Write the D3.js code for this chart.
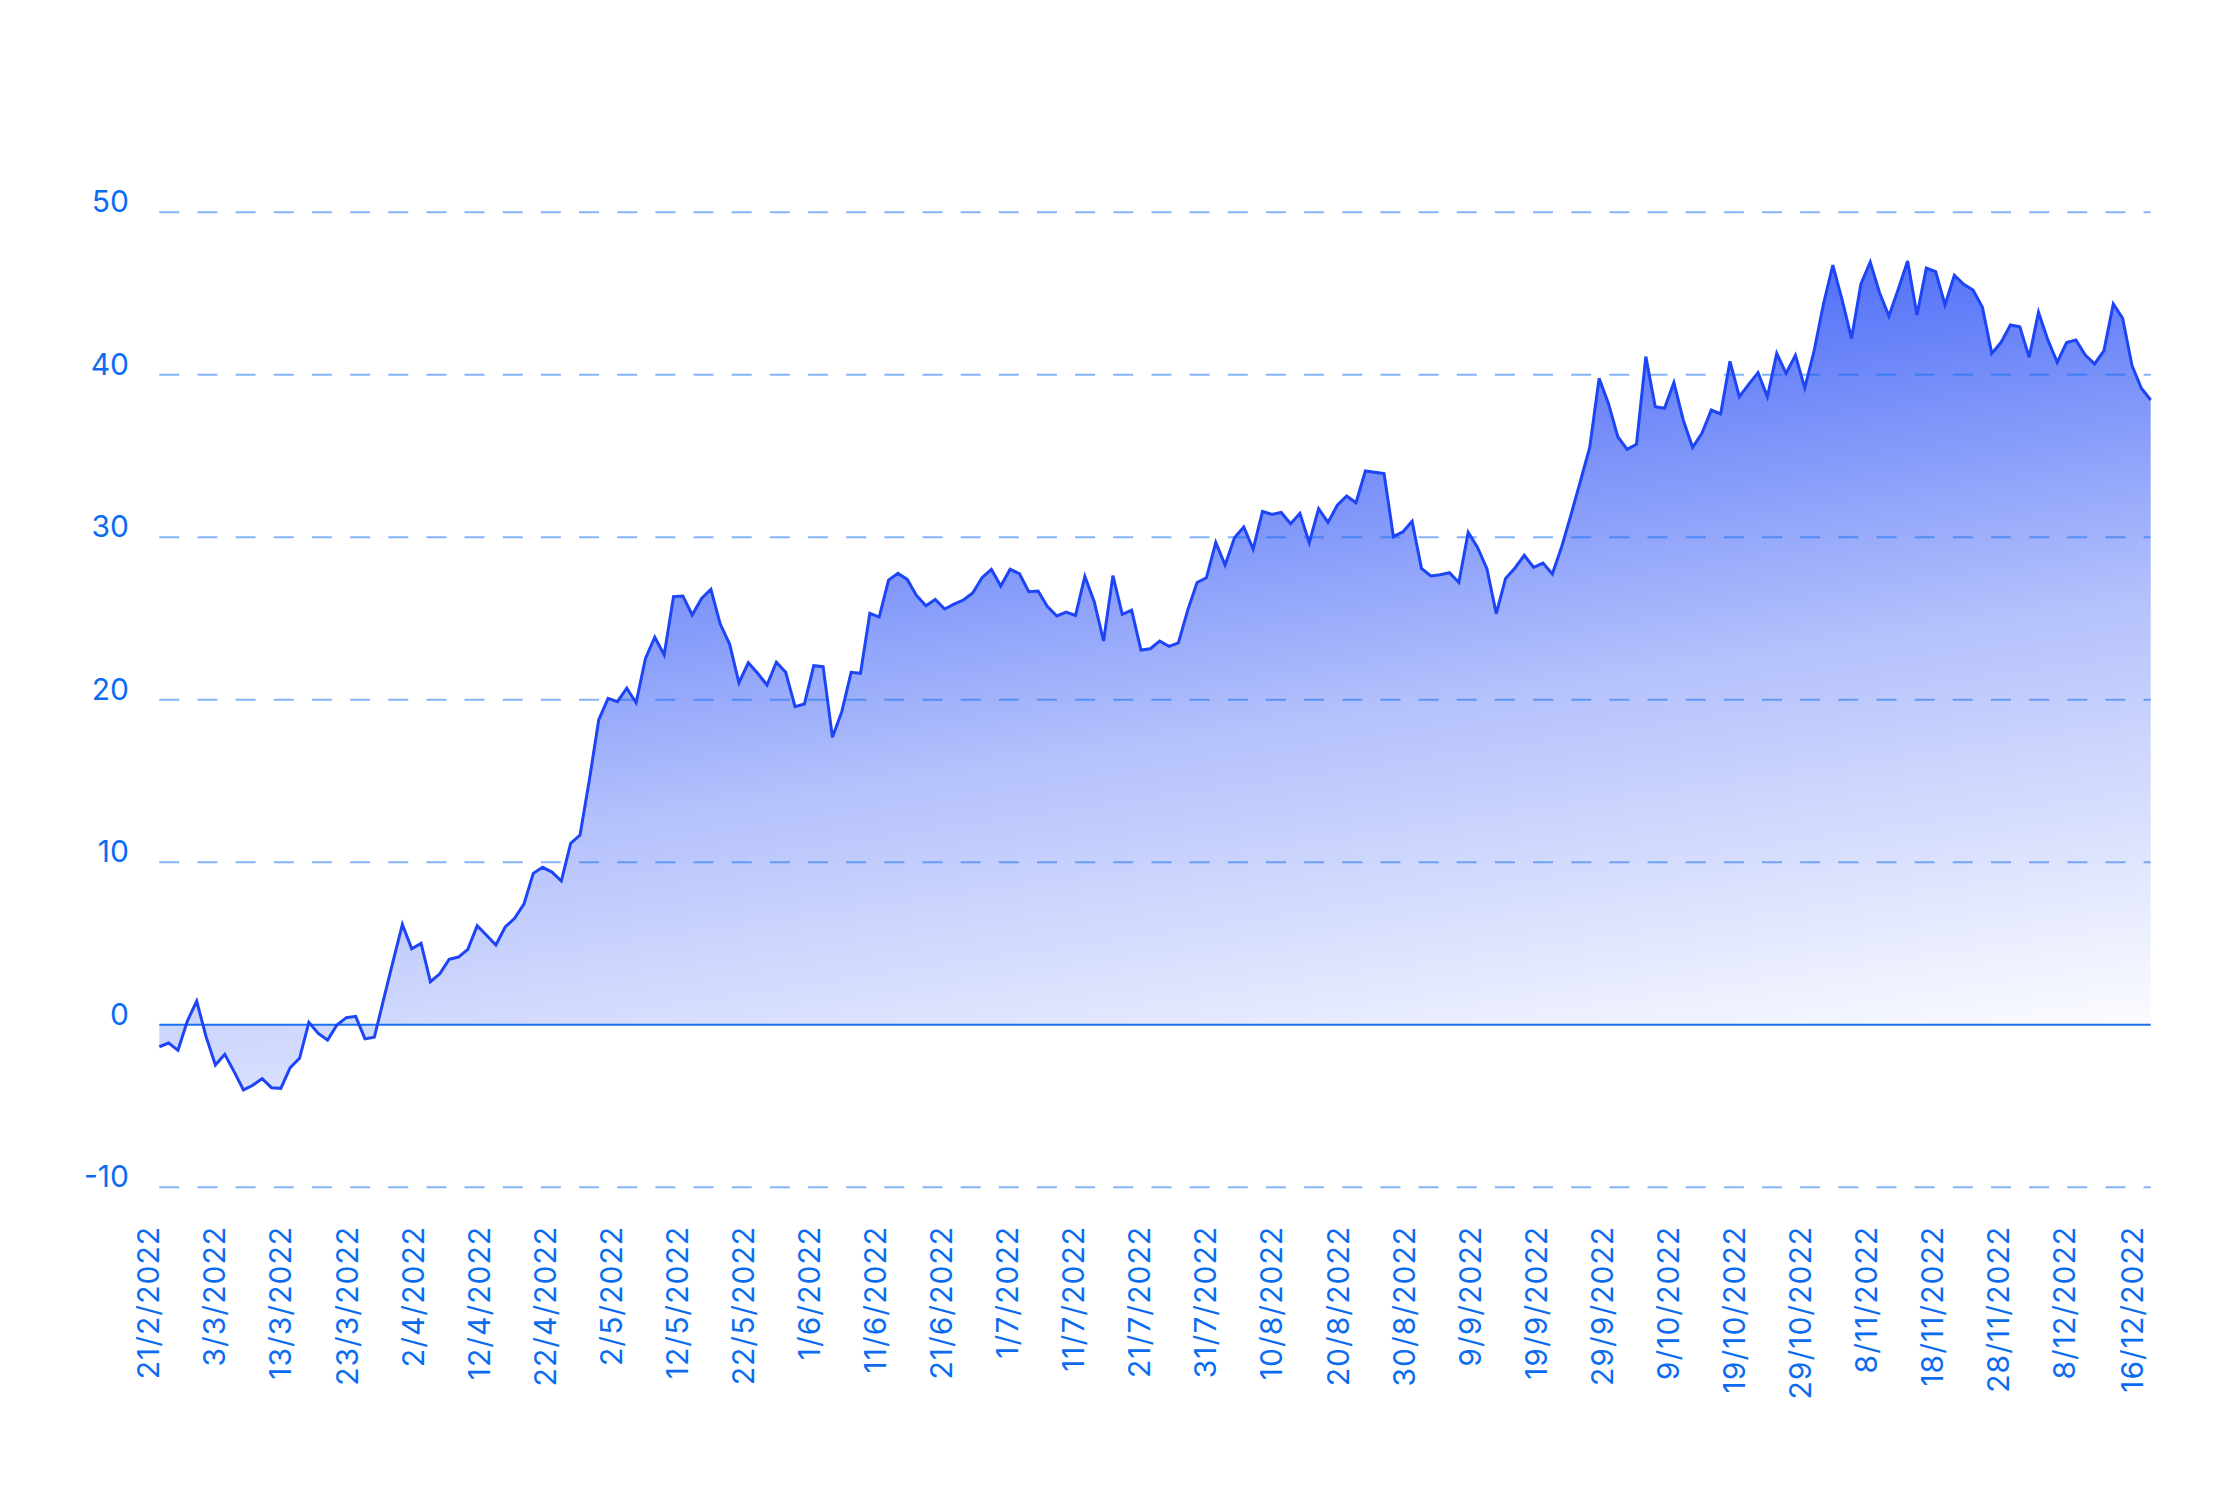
<!DOCTYPE html>
<html><head><meta charset="utf-8">
<script src="https://cdn.jsdelivr.net/npm/d3@7"></script>
<style>html,body{margin:0;padding:0;background:#fff}svg{display:block}</style>
</head><body>
<svg id="chart" width="2237" height="1512"></svg>
<script>
// ---- data ----
const values = [
  -1.35,-1.12,-1.57,0.23,1.46,-0.73,-2.47,-1.82,-2.88,-4.01,
  -3.72,-3.31,-3.87,-3.91,-2.64,-2.06,0.15,-0.53,-0.94,-0.01,
  0.44,0.52,-0.87,-0.77,1.58,3.9,6.18,4.68,5.01,2.65,
  3.14,4.03,4.17,4.64,6.10,5.51,4.91,6.02,6.55,7.43,
  9.32,9.69,9.40,8.85,11.17,11.68,15.06,18.76,20.09,19.89,
  20.71,19.82,22.55,23.85,22.76,26.35,26.39,25.22,26.24,26.80,
  24.66,23.43,21.05,22.28,21.63,20.91,22.31,21.69,19.58,19.74,
  22.10,22.04,17.69,19.27,21.69,21.63,25.32,25.09,27.37,27.78,
  27.41,26.41,25.79,26.18,25.59,25.89,26.14,26.57,27.52,28.03,
  27.00,28.03,27.76,26.65,26.69,25.73,25.16,25.40,25.19,27.59,
  26.04,23.62,27.64,25.26,25.52,23.06,23.14,23.62,23.29,23.50,
  25.52,27.22,27.51,29.69,28.29,29.97,30.63,29.28,31.59,31.41,
  31.53,30.84,31.47,29.67,31.76,30.92,31.97,32.54,32.13,34.08,
  34.00,33.92,30.04,30.33,30.98,28.09,27.62,27.70,27.82,27.22,
  30.31,29.38,28.07,25.30,27.47,28.11,28.89,28.15,28.41,27.74,
  29.42,31.4,33.45,35.53,39.78,38.24,36.19,35.41,35.72,41.12,
  38.04,37.94,39.52,37.22,35.54,36.40,37.83,37.59,40.83,38.65,
  39.41,40.13,38.65,41.32,40.09,41.20,39.20,41.48,44.36,46.75,
  44.60,42.24,45.58,46.94,45.05,43.62,45.26,47.00,43.68,46.57,
  46.35,44.30,46.12,45.57,45.22,44.15,41.32,42.00,43.07,42.96,
  41.08,43.85,42.15,40.77,41.98,42.14,41.22,40.67,41.49,44.36,
  43.48,40.57,39.17,38.45
];
const yTicks = [-10, 0, 10, 20, 30, 40, 50];
const xTickLabels = [
  "21/2/2022","3/3/2022","13/3/2022","23/3/2022","2/4/2022","12/4/2022",
  "22/4/2022","2/5/2022","12/5/2022","22/5/2022","1/6/2022","11/6/2022",
  "21/6/2022","1/7/2022","11/7/2022","21/7/2022","31/7/2022","10/8/2022",
  "20/8/2022","30/8/2022","9/9/2022","19/9/2022","29/9/2022","9/10/2022",
  "19/10/2022","29/10/2022","8/11/2022","18/11/2022","28/11/2022","8/12/2022",
  "16/12/2022"
];

// ---- layout ----
const W = 2237, H = 1512;
const plot = {left: 159.3, right: 2150.7, top: 212.3, bottom: 1187.3};
const textColor = "#0b6cf0";
const lineColor = "#1d45f5";
const fontFamily = "Inter, 'Noto Sans', sans-serif";

const svg = d3.select("#chart");
svg.append("rect").attr("width", W).attr("height", H).attr("fill", "#fff");

const y = d3.scaleLinear().domain([-10, 50]).range([plot.bottom, plot.top]);
const xi = d3.scaleLinear().domain([0, values.length - 1]).range([plot.left, plot.right]);

const parse = d3.timeParse("%d/%m/%Y");
const tickDates = xTickLabels.map(parse);
const nT = tickDates.length;
const xt = d3.scaleTime()
  .domain([tickDates[0], tickDates[nT - 2], tickDates[nT - 1]])
  .range([plot.left, 2075.3, 2142.5]);

// gradient
const defs = svg.append("defs");
const grad = defs.append("linearGradient")
  .attr("id", "areaGrad")
  .attr("gradientUnits", "userSpaceOnUse")
  .attr("x1", 1150).attr("y1", 200)
  .attr("x2", 1291).attr("y2", 1170);
grad.append("stop").attr("offset", 0).attr("stop-color", "#1d45f5").attr("stop-opacity", 0.95);
grad.append("stop").attr("offset", 0.55).attr("stop-color", "#1d45f5").attr("stop-opacity", 0.33);
grad.append("stop").attr("offset", 1).attr("stop-color", "#1d45f5").attr("stop-opacity", 0.0);

// area
const area = d3.area()
  .x((d, i) => xi(i))
  .y0(y(0))
  .y1(d => y(d));
svg.append("path").datum(values)
  .attr("d", area)
  .attr("fill", "url(#areaGrad)");

// grid lines
const grid = svg.append("g");
grid.selectAll("line.g").data(yTicks.filter(t => t !== 0)).join("line")
  .attr("class", "g")
  .attr("x1", plot.left).attr("x2", plot.right)
  .attr("y1", d => y(d)).attr("y2", d => y(d))
  .attr("stroke", "#0a6cf0").attr("stroke-opacity", 0.5)
  .attr("stroke-width", 2)
  .attr("stroke-dasharray", "20,18.16");
grid.append("line")
  .attr("x1", plot.left).attr("x2", plot.right)
  .attr("y1", y(0)).attr("y2", y(0))
  .attr("stroke", "#1a6ff2").attr("stroke-width", 2);

// line
const line = d3.line().x((d, i) => xi(i)).y(d => y(d));
svg.append("path").datum(values)
  .attr("d", line)
  .attr("fill", "none")
  .attr("stroke", lineColor)
  .attr("stroke-width", 3)
  .attr("stroke-linejoin", "miter");

// y labels
svg.append("g").selectAll("text").data(yTicks).join("text")
  .attr("x", 129).attr("y", d => y(d))
  .attr("text-anchor", "end")
  .attr("font-family", fontFamily)
  .attr("font-size", 30)
  .attr("fill", textColor)
  .text(d => d);

// x labels
svg.append("g").selectAll("text").data(tickDates).join("text")
  .attr("transform", d => `translate(${xt(d)},1226) rotate(-90)`)
  .attr("text-anchor", "end")
  .attr("font-family", fontFamily)
  .attr("font-size", 30)
  .attr("letter-spacing", 1)
  .attr("fill", textColor)
  .text((d, i) => xTickLabels[i]);
</script>
</body></html>
